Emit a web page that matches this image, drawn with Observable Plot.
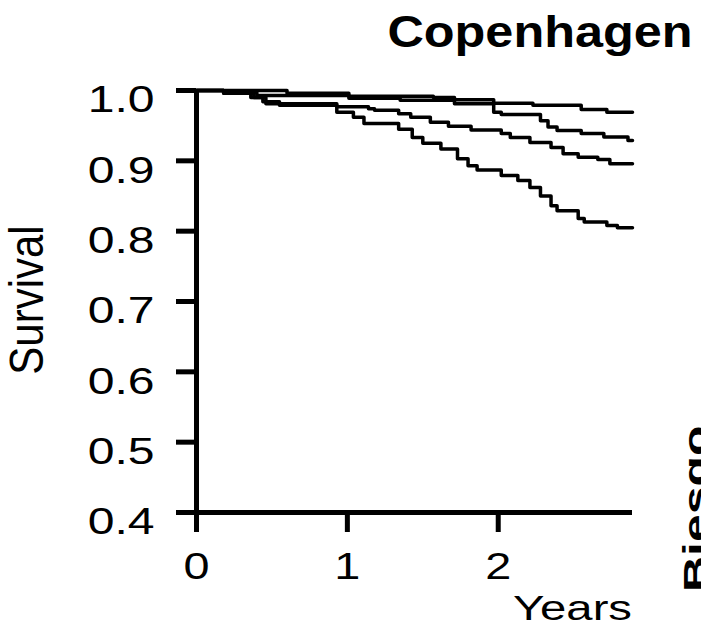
<!DOCTYPE html>
<html><head><meta charset="utf-8">
<script src="https://cdn.jsdelivr.net/npm/d3@7"></script>
<script src="https://cdn.jsdelivr.net/npm/@observablehq/plot@0.6"></script>
<style>
html,body{margin:0;padding:0;background:#fff;}
#chart{position:relative;width:701px;height:631px;overflow:hidden;}
</style></head><body><div id="chart"></div>
<script>
const title = "Copenhagen";
const yLabel = "Survival";
const xLabel = "Years";
const sideLabel = "Biesgo";
const yTicks = [0.4, 0.5, 0.6, 0.7, 0.8, 0.9, 1.0];
const xTicks = [0, 1, 2];
const xMax = 2.89;

const timeA = [0, 0.60, 1.01, 1.57, 1.71, 1.97, 2.23, 2.55, 2.72, 2.89];
const survA = [1.0, 0.996, 0.992, 0.990, 0.987, 0.982, 0.979, 0.973, 0.969, 0.969];

const timeB = [0, 0.18, 0.40, 1.01, 1.35, 1.71, 1.97, 2.02, 2.28, 2.33, 2.39, 2.55, 2.70, 2.86, 2.89];
const survB = [1.0, 0.997, 0.993, 0.989, 0.986, 0.981, 0.969, 0.966, 0.957, 0.948, 0.943, 0.939, 0.934, 0.929, 0.929];

const timeC = [0, 0.18, 0.36, 0.46, 0.93, 1.14, 1.18, 1.34, 1.42, 1.55, 1.67, 1.82, 2.02, 2.08, 2.21, 2.35, 2.43, 2.53, 2.66, 2.74, 2.89];
const survC = [1.0, 0.996, 0.990, 0.981, 0.977, 0.974, 0.972, 0.967, 0.962, 0.955, 0.949, 0.944, 0.939, 0.933, 0.926, 0.919, 0.910, 0.905, 0.902, 0.896, 0.896];

const timeD = [0, 0.18, 0.38, 0.44, 0.55, 0.93, 1.04, 1.11, 1.34, 1.43, 1.50, 1.62, 1.73, 1.80, 1.86, 2.02, 2.13, 2.21, 2.28, 2.35, 2.39, 2.53, 2.57, 2.72, 2.79, 2.89];
const survD = [1.0, 0.996, 0.990, 0.984, 0.979, 0.969, 0.962, 0.953, 0.945, 0.933, 0.925, 0.917, 0.903, 0.893, 0.887, 0.879, 0.872, 0.862, 0.850, 0.836, 0.829, 0.818, 0.813, 0.808, 0.805, 0.805];

const seriesList = [
  {name: "A", t: timeA, s: survA},
  {name: "B", t: timeB, s: survB},
  {name: "C", t: timeC, s: survC},
  {name: "D", t: timeD, s: survD}
];
const rows = seriesList.flatMap(d => d.t.map((t, i) => ({series: d.name, t, s: d.s[i]})));

const FONT = "'Liberation Sans', Arial, Helvetica, sans-serif";

const plot = Plot.plot({
  width: 701, height: 631,
  marginLeft: 196, marginRight: 69, marginTop: 90, marginBottom: 119,
  x: {domain: [0, xMax]},
  y: {domain: [0.4, 1.0]},
  style: {fontFamily: FONT, background: "white", color: "black"},
  marks: [
    Plot.line(rows, {x: "t", y: "s", z: "series", curve: "step-after", stroke: "black", strokeWidth: 3.5}),
    Plot.ruleX([0], {stroke: "black", strokeWidth: 5}),
    Plot.ruleY([0.4], {stroke: "black", strokeWidth: 5}),
    Plot.axisY(yTicks, {tickSize: 20, tickPadding: 22, tickFormat: d3.format(".1f"), label: null, fontSize: 37}),
    Plot.axisX(xTicks, {tickSize: 20, tickPadding: 21, tickFormat: d3.format("d"), label: null, fontSize: 36})
  ]
});
document.getElementById("chart").appendChild(plot);
const svg = d3.select(plot);

svg.selectAll('g[aria-label="y-axis tick"], g[aria-label="x-axis tick"]').attr("stroke-width", 5)
  .selectAll("path").attr("stroke-width", 5);

function stretch(el, sx, anchor, dy = 0) {
  const g = document.createElementNS("http://www.w3.org/2000/svg", "g");
  el.parentNode.insertBefore(g, el);
  g.appendChild(el);
  const b = g.getBBox();
  const ax = anchor === "end" ? b.x + b.width : anchor === "start" ? b.x : b.x + b.width / 2;
  g.setAttribute("transform", `translate(${ax},${dy}) scale(${sx},1) translate(${-ax},0)`);
}

svg.selectAll('g[aria-label="y-axis tick label"] text').each(function() { stretch(this, 1.3, "end", 10); });
svg.selectAll('g[aria-label="x-axis tick label"] text').each(function() { stretch(this, 1.3, "middle"); });

const tTitle = svg.append("text").attr("x", 540).attr("y", 47).attr("text-anchor", "middle")
  .attr("font-family", FONT).attr("font-weight", "bold").attr("font-size", 45).attr("fill", "black").text(title);
stretch(tTitle.node(), 1.12, "middle");

const tYears = svg.append("text").attr("x", 632).attr("y", 620).attr("text-anchor", "end")
  .attr("font-family", FONT).attr("font-size", 35).attr("fill", "black").text(xLabel);
stretch(tYears.node(), 1.35, "end");

const tSurv = svg.append("text").attr("transform", "translate(44,300) rotate(-90)").attr("text-anchor", "middle")
  .attr("font-family", FONT).attr("font-size", 42).attr("fill", "black").text(yLabel);
stretch(tSurv.node(), 1.13, "end");

const tSide = svg.append("text").attr("transform", "translate(705,592) rotate(-90)").attr("text-anchor", "start")
  .attr("font-family", FONT).attr("font-weight", "bold").attr("font-size", 50).attr("fill", "black").text(sideLabel);
stretch(tSide.node(), 0.72, "end");
</script></body></html>
